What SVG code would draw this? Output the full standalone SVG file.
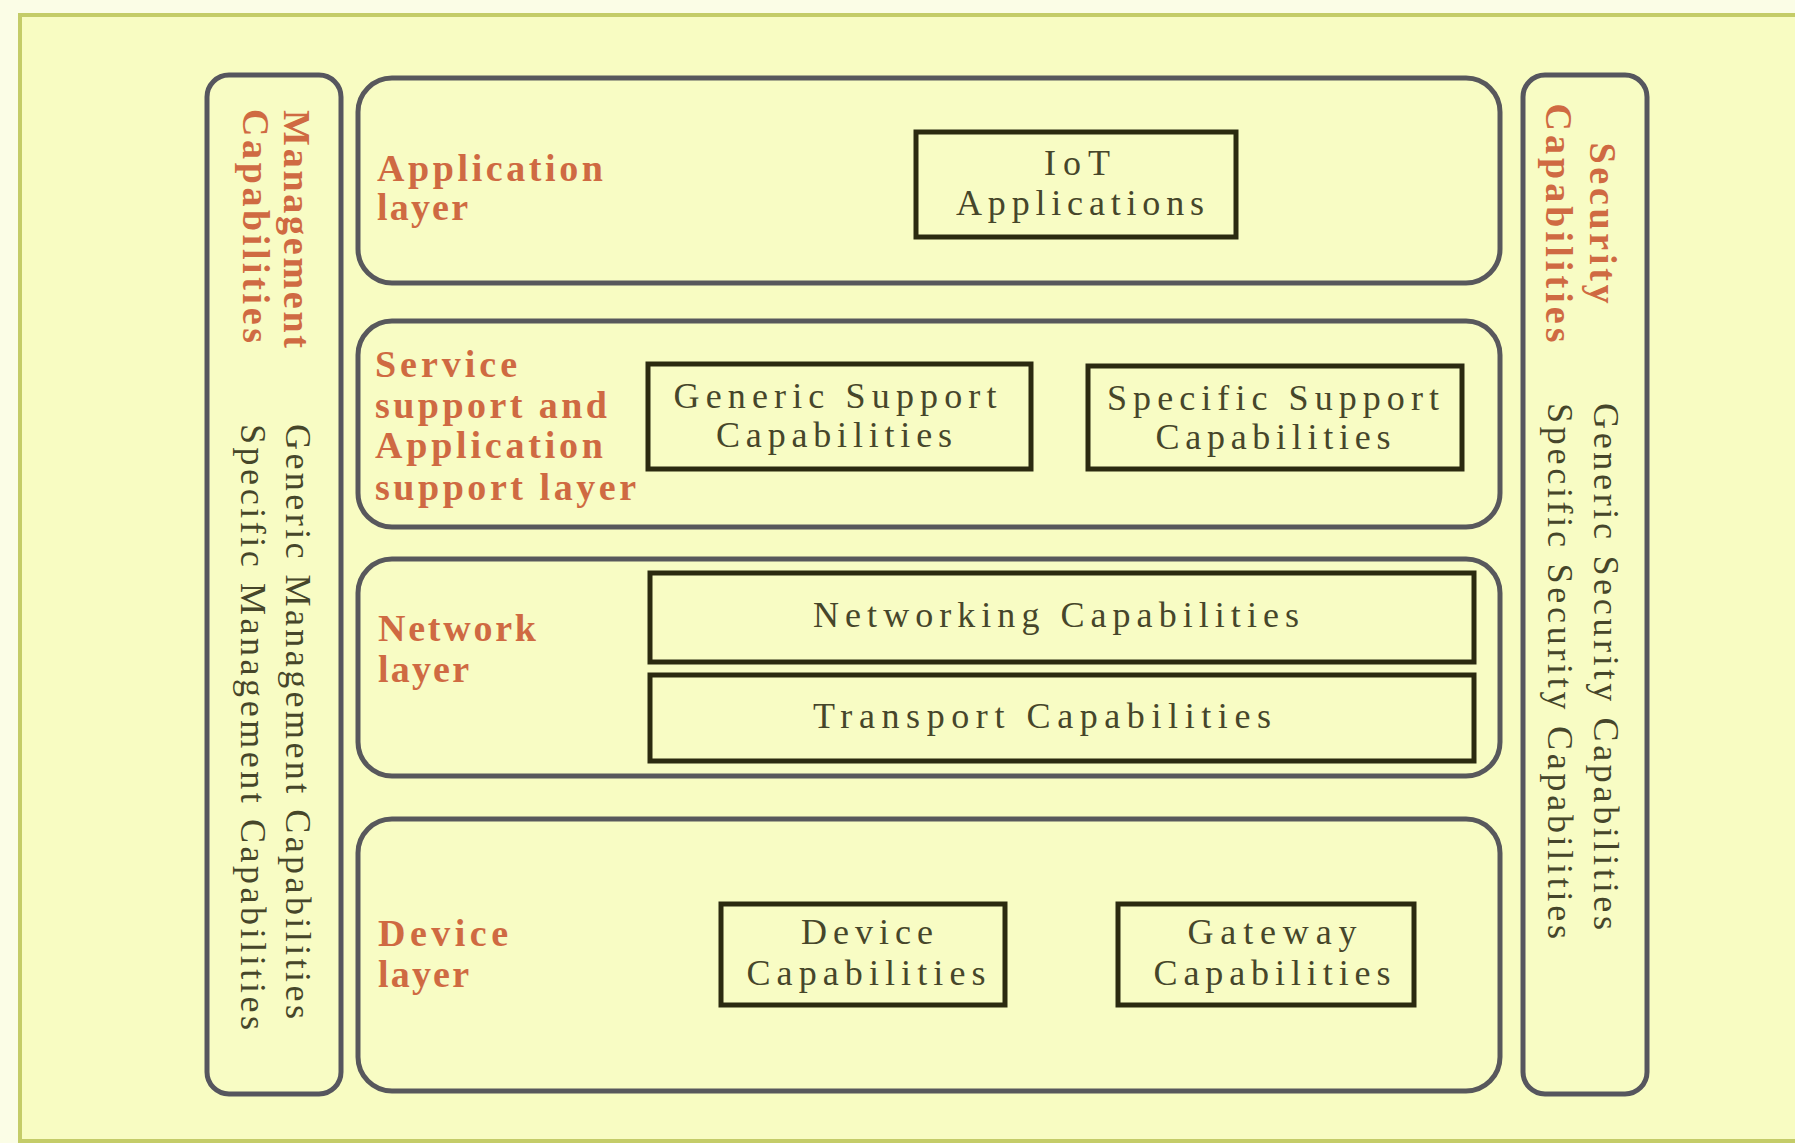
<svg xmlns="http://www.w3.org/2000/svg" width="1795" height="1143" viewBox="0 0 1795 1143">
<style>
.frame{stroke:#c4cc68;stroke-width:4;fill:none}
.layer{fill:#f8fcc4;stroke:#58585c;stroke-width:5}
.side{fill:#f8fcc4;stroke:#56565e;stroke-width:5}
.box{fill:#f8fcc4;stroke:#2b2a10;stroke-width:5}
.t{font-family:"Liberation Serif","Times New Roman",serif}
.title{font-size:38px;font-weight:bold;fill:#cf6a42}
.lbl{font-size:36px;fill:#46462a}
.c{text-anchor:middle}
</style>
<rect x="0" y="0" width="1795" height="1143" fill="#fbfde6"/>
<rect x="20" y="15" width="1795" height="1126" fill="#f8fcc2"/>
<g id="frame">
<line class="frame" x1="18" y1="15" x2="1795" y2="15"/>
<line class="frame" x1="20" y1="13" x2="20" y2="1143"/>
<line class="frame" x1="18" y1="1141" x2="1795" y2="1141"/>
</g>
<g id="management">
<rect class="side" x="207" y="75" width="134" height="1019" rx="22"/>
<text class="t title" transform="translate(284,110) rotate(90)" textLength="238" lengthAdjust="spacing">Management</text>
<text class="t title" transform="translate(243,109) rotate(90)" textLength="234" lengthAdjust="spacing">Capabilities</text>
<text class="t lbl" transform="translate(286,424) rotate(90)" textLength="595" lengthAdjust="spacing">Generic Management Capabilities</text>
<text class="t lbl" transform="translate(241,424) rotate(90)" textLength="606" lengthAdjust="spacing">Specific Management Capabilities</text>
</g>
<g id="security">
<rect class="side" x="1523" y="75" width="124" height="1019" rx="22"/>
<text class="t title c" transform="translate(1590,223) rotate(90)" textLength="161" lengthAdjust="spacing">Security</text>
<text class="t title c" transform="translate(1546,223) rotate(90)" textLength="239" lengthAdjust="spacing">Capabilities</text>
<text class="t lbl" transform="translate(1594,403) rotate(90)" textLength="527" lengthAdjust="spacing">Generic Security Capabilities</text>
<text class="t lbl" transform="translate(1548,403) rotate(90)" textLength="536" lengthAdjust="spacing">Specific Security Capabilities</text>
</g>
<g id="application-layer">
<rect class="layer" x="358" y="78" width="1142" height="205" rx="34"/>
<text class="t title" x="377" y="181" textLength="226" lengthAdjust="spacing">Application</text>
<text class="t title" x="377" y="220" textLength="91" lengthAdjust="spacing">layer</text>
</g>
<g id="iot-applications">
<rect class="box" x="916" y="132" width="320" height="105"/>
<text class="t lbl c" x="1077" y="175" textLength="66" lengthAdjust="spacing">IoT</text>
<text class="t lbl c" x="1080" y="215" textLength="248" lengthAdjust="spacing">Applications</text>
</g>
<g id="service-layer">
<rect class="layer" x="358" y="321" width="1142" height="206" rx="34"/>
<text class="t title" x="375" y="377" textLength="142" lengthAdjust="spacing">Service</text>
<text class="t title" x="375" y="418" textLength="232" lengthAdjust="spacing">support and</text>
<text class="t title" x="375" y="458" textLength="228" lengthAdjust="spacing">Application</text>
<text class="t title" x="375" y="500" textLength="261" lengthAdjust="spacing">support layer</text>
</g>
<g id="generic-support">
<rect class="box" x="648" y="364" width="383" height="105"/>
<text class="t lbl c" x="835" y="408" textLength="323" lengthAdjust="spacing">Generic Support</text>
<text class="t lbl c" x="834" y="447" textLength="236" lengthAdjust="spacing">Capabilities</text>
</g>
<g id="specific-support">
<rect class="box" x="1088" y="366" width="374" height="103"/>
<text class="t lbl c" x="1273" y="410" textLength="332" lengthAdjust="spacing">Specific Support</text>
<text class="t lbl c" x="1273" y="449" textLength="235" lengthAdjust="spacing">Capabilities</text>
</g>
<g id="network-layer">
<rect class="layer" x="358" y="559" width="1142" height="217" rx="34"/>
<text class="t title" x="378" y="641" textLength="158" lengthAdjust="spacing">Network</text>
<text class="t title" x="378" y="682" textLength="91" lengthAdjust="spacing">layer</text>
</g>
<g id="networking">
<rect class="box" x="650" y="573" width="824" height="89"/>
<text class="t lbl c" x="1056" y="627" textLength="486" lengthAdjust="spacing">Networking Capabilities</text>
</g>
<g id="transport">
<rect class="box" x="650" y="675" width="824" height="86"/>
<text class="t lbl c" x="1042" y="728" textLength="458" lengthAdjust="spacing">Transport  Capabilities</text>
</g>
<g id="device-layer">
<rect class="layer" x="358" y="819" width="1142" height="272" rx="34"/>
<text class="t title" x="378" y="946" textLength="130" lengthAdjust="spacing">Device</text>
<text class="t title" x="378" y="987" textLength="91" lengthAdjust="spacing">layer</text>
</g>
<g id="device-capabilities">
<rect class="box" x="721" y="904" width="284" height="101"/>
<text class="t lbl c" x="867" y="944" textLength="132" lengthAdjust="spacing">Device</text>
<text class="t lbl c" x="866" y="985" textLength="239" lengthAdjust="spacing">Capabilities</text>
</g>
<g id="gateway-capabilities">
<rect class="box" x="1118" y="904" width="296" height="101"/>
<text class="t lbl c" x="1272" y="944" textLength="169" lengthAdjust="spacing">Gateway</text>
<text class="t lbl c" x="1272" y="985" textLength="237" lengthAdjust="spacing">Capabilities</text>
</g>
<g id="connectors"></g>
</svg>
